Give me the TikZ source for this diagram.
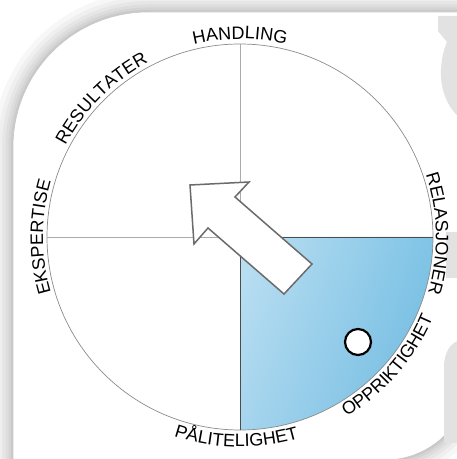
\documentclass[tikz,border=0pt]{standalone}
\usepackage{fontspec}
\setmainfont{Liberation Sans}
\usetikzlibrary{decorations.text,shadings}
\definecolor{qa}{HTML}{BDE0F2}
\definecolor{qb}{HTML}{80C4E6}
\definecolor{qc}{HTML}{A6D5EE}
\definecolor{qd}{HTML}{6DB8DF}
\definecolor{ghost}{HTML}{E2E2E2}
\newcommand\lblfont{\fontsize{18}{21}\selectfont}
\newcommand\cardshape[1]{\path[#1] (13,-1) -- (13,312) arc[start angle=180,end angle=90,radius=135] -- (470,447) -- (470,84) arc[start angle=0,end angle=-90,radius=85] -- cycle;}
\newcommand\arclabel[4]{\path[decorate,decoration={text along path,text align=center,text={|\lblfont|#1}}] (c) ++({#2+#4*34}:#3) arc[start angle={#2+#4*34}, end angle={#2-#4*34}, radius=#3];}
\begin{document}
\begin{tikzpicture}[x=1pt,y=1pt,
  circ/.style={draw=black!45,line width=0.7pt},
  gridl/.style={draw=black!33,line width=0.9pt},
  qedge/.style={draw=black!70,line width=0.7pt},
  arrowshape/.style={fill=white,draw=black!58,line width=1.5pt,line join=miter},
  marker/.style={circle,fill=white,draw=black,line width=2.2pt,minimum size=26pt,inner sep=0pt},
  ghostfill/.style={fill=ghost,draw=none}]
\useasboundingbox (0,0) rectangle (457,459);
\begin{scope}
\clip (0,0) rectangle (457,459);
\fill[white] (0,0) rectangle (457,459);
% card shadow
\cardshape{draw=black,line width=40pt,opacity=0.03}
\cardshape{draw=black,line width=30pt,opacity=0.03}
\cardshape{draw=black,line width=22pt,opacity=0.035}
\cardshape{draw=black,line width=15pt,opacity=0.035}
\cardshape{draw=black,line width=9pt,opacity=0.04}
\cardshape{draw=black,line width=4pt,opacity=0.05}
\cardshape{fill=white,draw=black!22,line width=0.6pt}
% ghost shapes at the right edge
\path[ghostfill] (438,443) -- (460,443) -- (460,341) .. controls (447,352) and (440,370) .. (441,390) .. controls (442,405) and (445,412) .. (447,417) -- (438,428) -- cycle;
\path[ghostfill] (446,181) rectangle (460,227);
\path[ghostfill] (460,119) .. controls (450,116) and (444,106) .. (444,92) -- (444,16) -- (460,16) -- cycle;
% wheel
\coordinate (c) at (240,222);
\shade[upper left=qa,upper right=qb,lower left=qc,lower right=qd] (c) -- ++(193,0) arc[start angle=0,end angle=-90,radius=193] -- cycle;
\draw[circ] (c) circle[radius=193];
\draw[gridl] (c) -- ++(0,193);
\draw[gridl] (c) -- ++(-193,0);
\draw[qedge] (c) -- ++(0,-193);
\draw[qedge] (c) -- ++(193,0);
% arrow
\draw[arrowshape] (190,274) -- (249,277) -- (235,262) -- (312,195) -- (284,165) -- (208,231) -- (194,215) -- cycle;
% marker
\node[marker] (m) at (358,117) {};
% labels
\arclabel{HANDLING}{90}{198}{1}
\arclabel{RESULTATER}{135}{197}{1}
\arclabel{EKSPERTISE}{180}{197}{1}
\arclabel{RELASJONER}{1}{196}{1}
\arclabel{OPPRIKTIGHET}{-41}{209}{-1}
\arclabel{PÅLITELIGHET}{-91}{210}{-1}
\end{scope}
\end{tikzpicture}
\end{document}
